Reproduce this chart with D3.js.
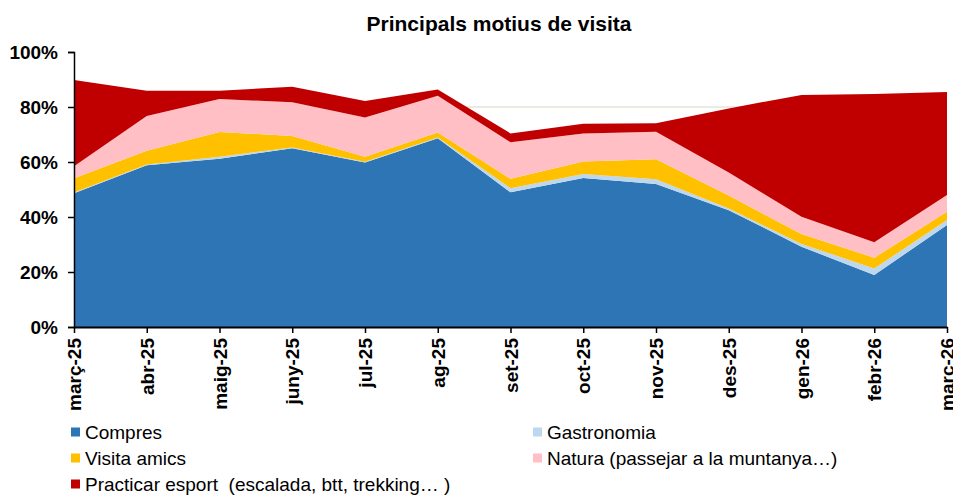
<!DOCTYPE html>
<html>
<head>
<meta charset="utf-8">
<script src="https://cdn.jsdelivr.net/npm/d3@7"></script>
<style>
  body { margin: 0; background: #fff; }
  svg { display: block; font-family: "Liberation Sans", Arial, sans-serif; }
  .ylab, .xlab { font-weight: bold; fill: #000; }
  .legtext { white-space: pre; }
</style>
</head>
<body>
<div id="chart"></div>
<script>
// months on the x axis
var months = ["març-25","abr-25","maig-25","juny-25","jul-25","ag-25","set-25","oct-25","nov-25","des-25","gen-26","febr-26","marc-26"];

// series shares (%)
var compres     = [48.6, 58.8, 61.2, 65.0, 59.8, 68.6, 49.0, 54.2, 52.0, 42.5, 29.2, 18.9, 37.1];
var gastronomia = [0.3, 0.3, 0.7, 0.3, 0.3, 0.3, 1.5, 1.4, 1.7, 0.6, 1.0, 2.4, 1.8];
var visita      = [5.2, 5.0, 9.0, 4.2, 1.8, 1.8, 3.4, 4.6, 7.3, 4.7, 3.6, 3.9, 3.0];
var natura      = [4.4, 12.6, 12.0, 12.2, 14.3, 13.4, 13.3, 10.2, 10.0, 8.4, 6.3, 5.6, 6.1];
var esport      = [31.3, 9.2, 3.0, 5.7, 6.0, 2.3, 3.2, 3.5, 3.1, 23.3, 44.3, 53.9, 37.5];

var seriesNames = ["Compres","Gastronomia","Visita amics","Natura (passejar a la muntanya…)","Practicar esport  (escalada, btt, trekking… )"];
var seriesColors = ["#2E75B6","#BDD7EE","#FFC000","#FFBFC5","#C00000"];
var yTicks = [0, 20, 40, 60, 80, 100];

var width = 953, height = 495;
var plotLeft = 74, plotRight = 947, plotTop = 52, plotBottom = 327;

var svg = d3.select("#chart").append("svg")
    .attr("width", width)
    .attr("height", height);

// build rows for d3.stack
var allSeries = [compres, gastronomia, visita, natura, esport];
var rows = months.map(function(m, i){
    var r = {month: m};
    seriesNames.forEach(function(k, j){ r[k] = allSeries[j][i]; });
    return r;
});

var x = d3.scalePoint().domain(months).range([plotLeft, plotRight]);
var y = d3.scaleLinear().domain([0, 100]).range([plotBottom, plotTop]);

// gridlines (only 80% shows above the areas)
svg.append("g").selectAll("line")
    .data([20, 40, 60, 80])
    .enter().append("line")
    .attr("x1", plotLeft).attr("x2", plotRight)
    .attr("y1", function(d){ return y(d); })
    .attr("y2", function(d){ return y(d); })
    .attr("stroke", "#e4e4da")
    .attr("stroke-width", 1.5);

var stacked = d3.stack().keys(seriesNames)(rows);

var area = d3.area()
    .x(function(d){ return x(d.data.month); })
    .y0(function(d){ return y(d[0]); })
    .y1(function(d){ return y(d[1]); });

svg.append("g").selectAll("path")
    .data(stacked)
    .enter().append("path")
    .attr("d", area)
    .attr("fill", function(d, i){ return seriesColors[i]; });

// y axis
var yAxis = svg.append("g")
    .attr("transform", "translate(" + plotLeft + ",0)")
    .call(d3.axisLeft(y).tickValues(yTicks).tickSize(6).tickPadding(10)
        .tickFormat(function(d){ return d + "%"; }));
yAxis.select(".domain").attr("stroke", "#000").attr("stroke-width", 1.5);
yAxis.selectAll(".tick line").attr("stroke", "#000").attr("stroke-width", 1.5);
yAxis.selectAll("text").attr("class", "ylab").style("font-size", "19px");

// x axis
var xAxis = svg.append("g")
    .attr("transform", "translate(0," + plotBottom + ")")
    .call(d3.axisBottom(x).tickSize(6).tickSizeOuter(0));
xAxis.select(".domain").attr("stroke", "#000").attr("stroke-width", 2);
xAxis.selectAll(".tick line").attr("stroke", "#000").attr("stroke-width", 1.5);
xAxis.selectAll("text")
    .attr("class", "xlab")
    .style("font-size", "19px")
    .attr("transform", "rotate(-90)")
    .attr("text-anchor", "end")
    .attr("x", -11)
    .attr("y", 0)
    .attr("dy", "0.35em");

// title
svg.append("text")
    .attr("x", 499)
    .attr("y", 31)
    .attr("text-anchor", "middle")
    .style("font-weight", "bold")
    .style("font-size", "21px")
    .text("Principals motius de visita");

// legend, two columns
var legendPos = [[71, 432], [533, 432], [71, 458], [533, 458], [71, 484]];
var legend = svg.append("g").selectAll("g")
    .data(seriesNames)
    .enter().append("g")
    .attr("transform", function(d, i){ return "translate(" + legendPos[i][0] + "," + legendPos[i][1] + ")"; });
legend.append("rect")
    .attr("x", 0).attr("y", -4.5)
    .attr("width", 9).attr("height", 9)
    .attr("fill", function(d, i){ return seriesColors[i]; });
legend.append("text")
    .attr("class", "legtext")
    .attr("x", 14)
    .attr("dy", "0.35em")
    .style("font-size", "19px")
    .text(function(d){ return d; });
</script>
</body>
</html>
